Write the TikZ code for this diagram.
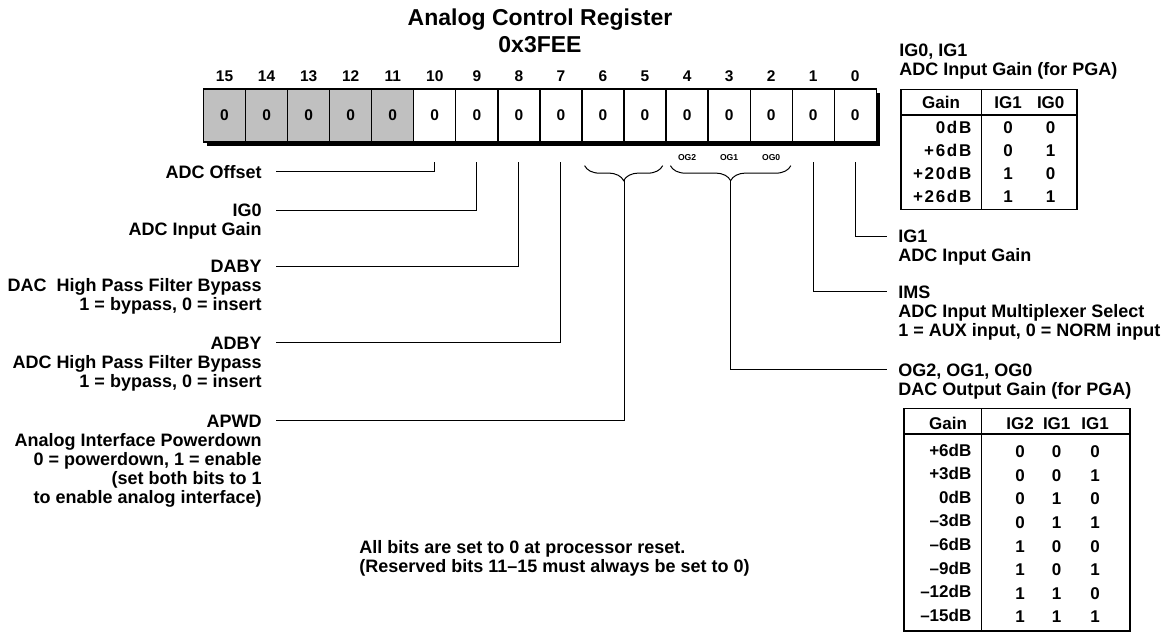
\documentclass[tikz,border=0pt]{standalone}
\usepackage{fontspec}
\setmainfont{Liberation Sans}
\usetikzlibrary{calc,decorations.pathreplacing}

\definecolor{resgray}{RGB}{192,192,192}

\tikzset{
  lbl/.style={inner sep=0pt, font=\bfseries\fontsize{9}{9.5}\selectfont},
  bitcell/.style={draw, line width=0.65pt, minimum width=21.025pt, minimum height=26.5pt,
    inner sep=0pt, font=\bfseries\fontsize{7.75}{9}\selectfont},
  bitnum/.style={inner sep=0pt, font=\bfseries\fontsize{7.75}{9}\selectfont},
  oglbl/.style={inner sep=0pt, font=\bfseries\fontsize{4.3}{5}\selectfont},
  tbl/.style={inner sep=0pt, font=\bfseries\fontsize{8.5}{10}\selectfont},
  wide/.style={font=\bfseries\fontsize{8.5}{10}\selectfont\addfontfeatures{LetterSpace=10}},
  wire/.style={line width=0.5pt},
  tline/.style={line width=0.65pt},
  brc/.style={line width=0.5pt, decorate, decoration={brace, amplitude=7.5pt}},
}

\begin{document}
\begin{tikzpicture}[x=0.5pt, y=-0.5pt]
  \useasboundingbox (0,0) rectangle (1168,633);

  % title
  \node (title) [inner sep=0pt, anchor=base, font=\bfseries\fontsize{11.5}{13.5}\selectfont] at (540,25.2) {Analog Control Register};
  \node (addr) [inner sep=0pt, anchor=base, font=\bfseries\fontsize{11.5}{13.5}\selectfont] at (540,52.2) {0x3FEE};

  % register with shadow
  \fill (207,92.5) rectangle (880,145.5);
  \foreach \b in {0,...,15} {
    \pgfmathsetmacro\cx{876.3-42.05*(\b+0.5)}
    \ifnum\b>10 \def\cellfill{resgray}\else\def\cellfill{white}\fi
    \node (c\b) [bitcell, fill=\cellfill] at (\cx,115.5) {0};
    \node (n\b) [bitnum, anchor=base] at (\cx,81.5) {\b};
  }

  % line ends below the register
  \foreach \b in {10,9,8,7,1,0}
    \coordinate (t\b) at ($(c\b.south)+(0,19.7)$);

  % braces
  \draw[brc] ($(c5.south east)+(-4,23)$) -- ($(c6.south west)+(3.3,23)$);
  \draw[brc] ($(c2.south east)+(-2,23)$) -- ($(c4.south west)+(5,23)$);
  \coordinate (tip65) at (624,180);
  \coordinate (tipog) at (730.5,180);
  \node (og2) [oglbl] at ($(c4.south)+(0,14.7)$) {OG2};
  \node (og1) [oglbl] at ($(c3.south)+(0,14.7)$) {OG1};
  \node (og0) [oglbl] at ($(c2.south)+(0,14.7)$) {OG0};

  % left labels
  \node (aoff) [lbl, anchor=north east, align=right] at (262,164.85) {\strut ADC Offset};
  \node (aig0) [lbl, anchor=north east, align=right] at (262,203.15) {\strut IG0\\ADC Input Gain};
  \node (adaby) [lbl, anchor=north east, align=right] at (262,259.15) {\strut DABY\\DAC\ \ High Pass Filter Bypass\\1 = bypass, 0 = insert};
  \node (aadby) [lbl, anchor=north east, align=right] at (262,335.85) {\strut ADBY\\ADC High Pass Filter Bypass\\1 = bypass, 0 = insert};
  \node (apwd) [lbl, anchor=north east, align=right] at (262,413.85) {\strut APWD\\Analog Interface Powerdown\\0 = powerdown, 1 = enable\\(set both bits to 1\\to enable analog interface)};

  \draw[wire] ([xshift=7pt,yshift=-3.43pt]aoff.north east) -| (t10);
  \draw[wire] ([xshift=7pt,yshift=-3.43pt]aig0.north east) -| (t9);
  \draw[wire] ([xshift=7pt,yshift=-3.43pt]adaby.north east) -| (t8);
  \draw[wire] ([xshift=7pt,yshift=-3.43pt]aadby.north east) -| (t7);
  \draw[wire] ([xshift=7pt,yshift=-3.43pt]apwd.north east) -| (tip65);

  % right labels
  \node (rigt) [lbl, anchor=north west, align=left] at (899,43.15) {\strut IG0, IG1\\ADC Input Gain (for PGA)};
  \node (rig1) [lbl, anchor=north west, align=left] at (898,229.15) {\strut IG1\\ADC Input Gain};
  \node (rims) [lbl, anchor=north west, align=left] at (898,284.85) {\strut IMS\\ADC Input Multiplexer Select\\1 = AUX input, 0 = NORM input};
  \node (rog) [lbl, anchor=north west, align=left] at (898,362.45) {\strut OG2, OG1, OG0\\DAC Output Gain (for PGA)};

  \draw[wire] (t0) |- ([xshift=-5.5pt,yshift=-3.43pt]rig1.north west);
  \draw[wire] (t1) |- ([xshift=-5.5pt,yshift=-3.43pt]rims.north west);
  \draw[wire] (tipog) |- ([xshift=-5.5pt,yshift=-3.43pt]rog.north west);

  % input gain table
  \draw[tline] (901,89.3) rectangle (1077,209.3);
  \draw[tline] (901,115) -- (1077,115);
  \draw[tline] (981.7,89.3) -- (981.7,209.3);
  \node (igh) [tbl, anchor=base] at (941,108.8) {Gain};
  \node (igh1) [tbl, anchor=base] at (1008,108.8) {IG1};
  \node (igh0) [tbl, anchor=base] at (1050.7,108.8) {IG0};
  \foreach \g/\p/\q [count=\i] in {0dB/0/0, +6dB/0/1, +20dB/1/0, +26dB/1/1} {
    \pgfmathsetmacro\ry{127.3+22.9*(\i-1)+6.1}
    \node (igg\i) [tbl, wide, anchor=base east] at (971.7,\ry) {\g};
    \node (ig1\i) [tbl, anchor=base] at (1008,\ry) {\p};
    \node (ig0\i) [tbl, anchor=base] at (1050.7,\ry) {\q};
  }

  % output gain table
  \draw[tline] (904,408.3) rectangle (1130,631);
  \draw[tline] (904,434) -- (1130,434);
  \draw[tline] (981.7,408.3) -- (981.7,631);
  \node (ogh) [tbl, anchor=base] at (948,429.1) {Gain};
  \node (ogh2) [tbl, anchor=base] at (1020,429.1) {IG2};
  \node (ogh1) [tbl, anchor=base] at (1056.7,429.1) {IG1};
  \node (ogh0) [tbl, anchor=base] at (1095,429.1) {IG1};
  \foreach \g/\p/\q/\r [count=\i] in {+6dB/0/0/0, +3dB/0/0/1, 0dB/0/1/0, –3dB/0/1/1,
                                      –6dB/1/0/0, –9dB/1/0/1, –12dB/1/1/0, –15dB/1/1/1} {
    \pgfmathsetmacro\ry{450+23.6*(\i-1)+6.1}
    \node (ogg\i) [tbl, anchor=base east] at (971.7,\ry) {\g};
    \node (og2\i) [tbl, anchor=base] at (1020,\ry+1.5) {\p};
    \node (og1\i) [tbl, anchor=base] at (1056.7,\ry+1.5) {\q};
    \node (og0\i) [tbl, anchor=base] at (1095,\ry+1.5) {\r};
  }

  % reset note
  \node (note) [lbl, anchor=north west, align=left] at (359,540.15) {\strut All bits are set to 0 at processor reset.\\(Reserved bits 11–15 must always be set to 0)};
\end{tikzpicture}
\end{document}
